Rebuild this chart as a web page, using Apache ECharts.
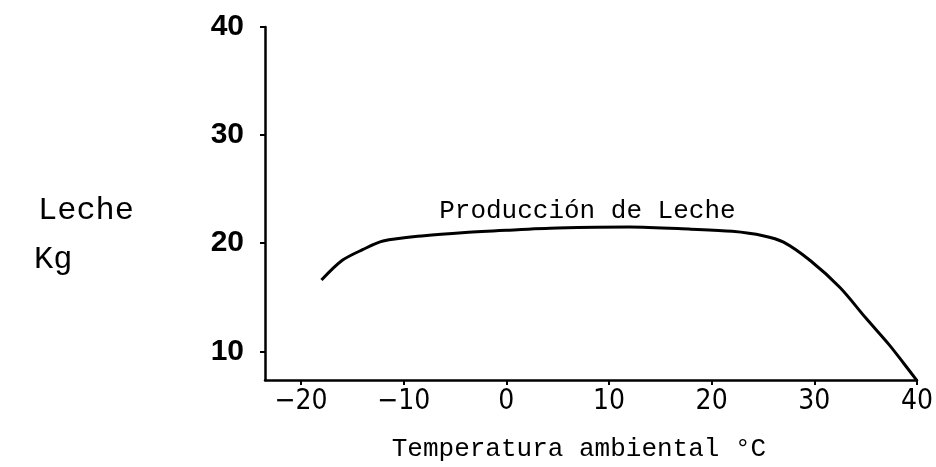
<!DOCTYPE html>
<html>
<head>
<meta charset="utf-8">
<script src="https://cdn.jsdelivr.net/npm/echarts@6/dist/echarts.min.js"></script>
<style>html,body{margin:0;padding:0;background:#fff}#c{width:936px;height:467px}</style>
</head>
<body>
<div id="c"></div>
<script>
const temperatures = [-18, -16, -14, -12, -8, -4, 0, 5, 12, 18, 22, 25, 27, 29.6, 32.5, 35, 37.3, 38.7, 40];
const milkKg = [16.6, 18.4, 19.4, 20.2, 20.7, 21.0, 21.2, 21.4, 21.5, 21.3, 21.1, 20.7, 20.1, 18.4, 15.9, 13.1, 10.6, 8.9, 7.3];
const xTicks = [-20, -10, 0, 10, 20, 30, 40];
const yTicks = [10, 20, 30, 40];
const seriesLabel = 'Producción de Leche';
const xTitle = 'Temperatura ambiental °C';
const yTitle1 = 'Leche';
const yTitle2 = 'Kg';

const mono = '"Liberation Mono", "Courier New", monospace';
const chart = echarts.init(document.getElementById('c'));
chart.setOption({
  animation: false,
  backgroundColor: '#fff',
  grid: { left: 265, right: 8, top: 27, bottom: 83 },
  xAxis: {
    type: 'value', min: -23.5, max: 40,
    name: xTitle, nameLocation: 'middle', nameGap: 56,
    nameTextStyle: { fontFamily: mono, fontSize: 26, color: '#000', padding: [0, 24, 0, 0] },
    axisLine: { onZero: false, lineStyle: { color: '#000', width: 2.5 } },
    axisTick: { show: true, length: 5, lineStyle: { color: '#000', width: 2 }, customValues: xTicks },
    axisLabel: { customValues: xTicks, color: '#000', fontSize: 28, margin: 8,
      fontFamily: '"Liberation Sans Narrow", "DejaVu Sans Condensed", sans-serif',
      formatter: v => (v < 0 ? '\u2212' + Math.abs(v) : String(v)) },
    splitLine: { show: false }
  },
  yAxis: {
    type: 'value', min: 7.35, max: 40,
    axisLine: { show: true, onZero: false, lineStyle: { color: '#000', width: 2.5 } },
    axisTick: { show: true, length: 5, lineStyle: { color: '#000', width: 2 }, customValues: yTicks },
    axisLabel: { customValues: yTicks, color: '#000', fontSize: 30, fontWeight: 'bold', margin: 21,
      fontFamily: '"Liberation Sans", Arial, sans-serif' },
    splitLine: { show: false }
  },
  graphic: [
    { type: 'text', left: 38, top: 195, style: { text: yTitle1, font: '32px ' + mono, fill: '#000' } },
    { type: 'text', left: 34, top: 244, style: { text: yTitle2, font: '32px ' + mono, fill: '#000' } }
  ],
  series: [{
    type: 'line', name: seriesLabel,
    data: temperatures.map((t, i) => [t, milkKg[i]]),
    smooth: 0.3, showSymbol: false,
    lineStyle: { color: '#000', width: 3 },
    markPoint: {
      symbol: 'circle', symbolSize: 1,
      itemStyle: { color: 'rgba(0,0,0,0)' },
      data: [{ coord: [7.9, 23.0], value: seriesLabel }],
      label: { show: true, formatter: seriesLabel, fontFamily: mono, fontSize: 26, color: '#000', position: 'inside' }
    }
  }]
});
</script>
</body>
</html>
